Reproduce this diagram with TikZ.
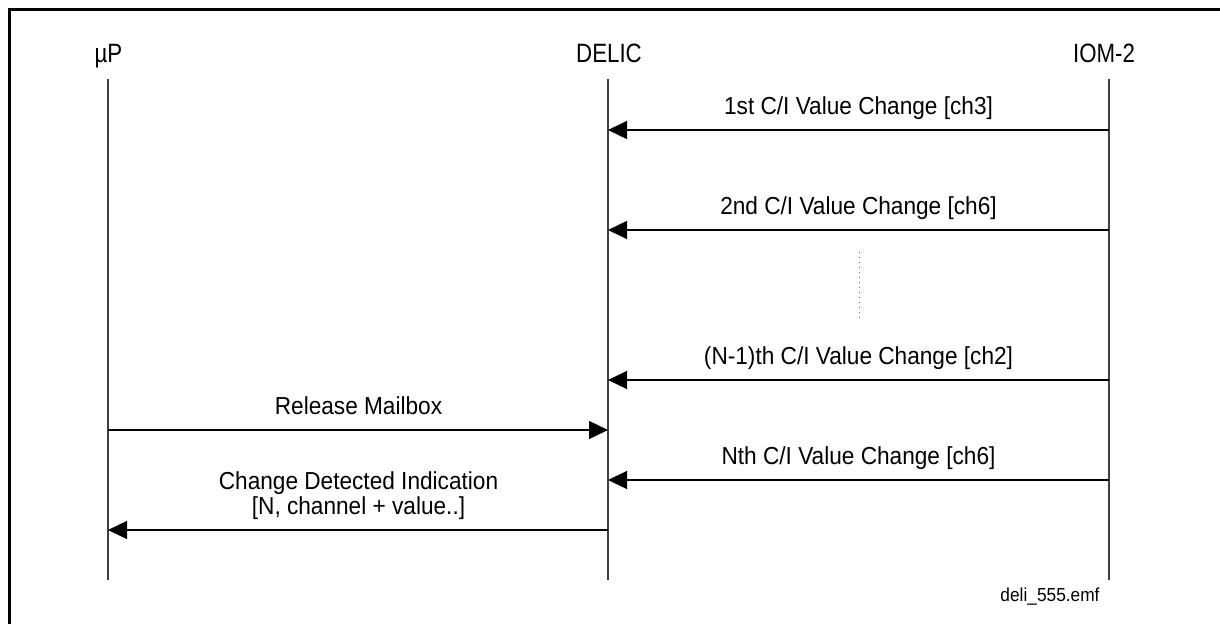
\documentclass[tikz,border=0pt]{standalone}
\usepackage{fontspec}
\setmainfont{Liberation Sans}
\newfontfamily\msgfont[FakeStretch=0.92]{Liberation Sans}
\newfontfamily\titlefont[FakeStretch=0.84]{Liberation Sans}
\usetikzlibrary{arrows.meta}
\begin{document}
\begin{tikzpicture}[x=1pt,y=-1pt,
  title/.style={font=\titlefont\fontsize{26.5}{30}\selectfont, anchor=base, inner sep=0pt},
  msg/.style={font=\msgfont\fontsize{24.6}{28}\selectfont, anchor=base, inner sep=0pt},
  note/.style={font=\msgfont\fontsize{18.8}{22}\selectfont, anchor=base, inner sep=0pt},
  life/.style={draw=black!75, line width=1.5pt},
  arr/.style={draw=black, line width=1.3pt, -{Triangle[length=19pt,width=18pt]}},
  dots/.style={draw=black!60, line width=1pt, dash pattern=on 1pt off 4pt},
]
\useasboundingbox (0,0) rectangle (1220,624);
\draw[line width=3pt] (9.5,624) -- (9.5,9.5) -- (1220,9.5);

% lifeline titles
\node[title] (tP) at (108.5,62.5) {µP};
\node[title] (tD) at (609,62.5) {DELIC};
\node[title] (tI) at (1104,62.5) {IOM-2};

% lifelines
\coordinate (P0) at (108,79);  \coordinate (P1) at (108,580);
\coordinate (D0) at (608,79);  \coordinate (D1) at (608,580);
\coordinate (I0) at (1109,79); \coordinate (I1) at (1109,580);
\draw[life] (P0) -- (P1);
\draw[life] (D0) -- (D1);
\draw[life] (I0) -- (I1);

% message points
\coordinate (i1) at (1109,130); \coordinate (d1) at (608,130);
\coordinate (i2) at (1109,230); \coordinate (d2) at (608,230);
\coordinate (i3) at (1109,380); \coordinate (d3) at (608,380);
\coordinate (p4) at (108,430);  \coordinate (d4) at (608,430);
\coordinate (i5) at (1109,480); \coordinate (d5) at (608,480);
\coordinate (d6) at (608,530);  \coordinate (p6) at (108,530);

\draw[arr] (i1) -- (d1);
\draw[arr] (i2) -- (d2);
\draw[arr] (i3) -- (d3);
\draw[arr] (p4) -- (d4);
\draw[arr] (i5) -- (d5);
\draw[arr] (d6) -- (p6);

% ellipsis
\coordinate (e0) at (859,252); \coordinate (e1) at (859,320);
\draw[dots] (e0) -- (e1);

% labels
\node[msg] (m1) at (858.5,114) {1st C/I Value Change [ch3]};
\node[msg] (m2) at (858.5,214) {2nd C/I Value Change [ch6]};
\node[msg] (m3) at (858.5,364) {(N-1)th C/I Value Change [ch2]};
\node[msg] (m4) at (358.5,414) {Release Mailbox};
\node[msg] (m5) at (858.5,464) {Nth C/I Value Change [ch6]};
\node[msg] (m6a) at (358.5,489) {Change Detected Indication};
\node[msg] (m6b) at (358.5,514) {[N, channel + value..]};

\node[note] (fn) at (1050,601) {deli\_555.emf};
\end{tikzpicture}
\end{document}
